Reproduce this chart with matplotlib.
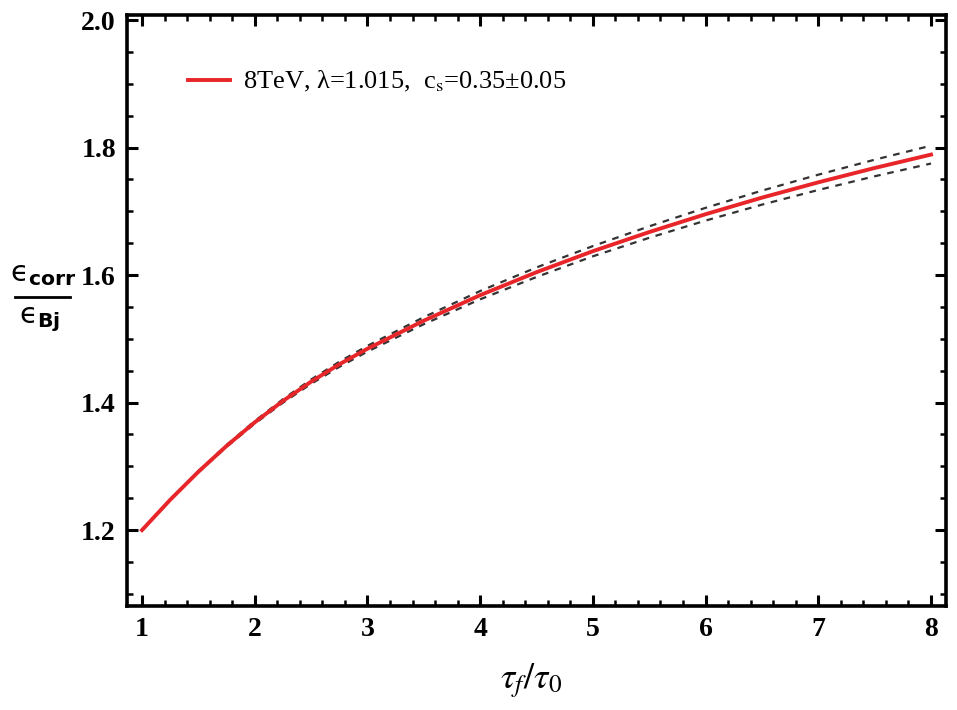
import matplotlib
matplotlib.use("Agg")
import matplotlib.pyplot as plt
from matplotlib.ticker import MultipleLocator
from matplotlib.lines import Line2D

plt.rcParams['mathtext.fontset'] = 'stix'
plt.rcParams['font.family'] = ['Liberation Serif', 'DejaVu Serif']

# Data
tau_ratio = [1.0, 1.25, 1.5, 1.75, 2.0, 2.25, 2.5, 2.75, 3.0, 3.5, 4.0, 4.5,
             5.0, 5.5, 6.0, 6.5, 7.0, 7.5, 8.0]
eps_ratio = [1.200, 1.2475, 1.2915, 1.332, 1.369, 1.4025, 1.4328, 1.460, 1.4845,
             1.5285, 1.5685, 1.6045, 1.6375, 1.6675, 1.6955, 1.7215, 1.7455, 1.768, 1.789]
eps_upper = [1.200, 1.2480, 1.2925, 1.3335, 1.371, 1.4052, 1.4362, 1.464, 1.4890,
             1.5340, 1.5750, 1.6120, 1.6455, 1.6765, 1.7055, 1.7325, 1.7575, 1.781, 1.803]
eps_lower = [1.200, 1.2470, 1.2905, 1.3305, 1.367, 1.3998, 1.4294, 1.456, 1.4800,
             1.5230, 1.5620, 1.5970, 1.6295, 1.6585, 1.6855, 1.7105, 1.7335, 1.755, 1.775]
legend_label = '8TeV, λ=1.015,  c$_{\\mathrm{s}}$=0.35±0.05'
x_ticks = [1, 2, 3, 4, 5, 6, 7, 8]
y_ticks = [1.2, 1.4, 1.6, 1.8, 2.0]

fig = plt.figure(figsize=(9.57, 7.10), dpi=100)
ax = fig.add_axes([0.1327, 0.1465, 0.8558, 0.8324])

ax.plot(tau_ratio, eps_upper, color='#333333', lw=1.6, ls=(0, (3, 3)))
ax.plot(tau_ratio, eps_lower, color='#333333', lw=1.6, ls=(0, (3, 3)))
ax.plot(tau_ratio, eps_ratio, color='#e8262a', lw=2.8, label=legend_label)

ax.set_xlim(0.867, 8.133)
ax.set_ylim(1.081, 2.008)
ax.set_xticks(x_ticks)
ax.set_yticks(y_ticks)
ax.xaxis.set_minor_locator(MultipleLocator(0.2))
ax.yaxis.set_minor_locator(MultipleLocator(0.05))
ax.set_xticklabels([str(v) for v in x_ticks])
ax.set_yticklabels(['%.1f' % v for v in y_ticks])

for s in ax.spines.values():
    s.set_linewidth(2.6)
ax.tick_params(which='major', direction='in', length=8, width=2.2,
               top=True, right=True, labelsize=20, pad=8)
ax.tick_params(which='minor', direction='in', length=4, width=1.8,
               top=True, right=True)
for lab in ax.get_xticklabels() + ax.get_yticklabels():
    lab.set_fontweight('bold')

leg = ax.legend(loc='center left', bbox_to_anchor=(0.045, 0.887), frameon=False,
                handlelength=1.6, handletextpad=0.5, fontsize=19)

fig.text(0.555, 0.042, r'$\tau_f/\tau_0$', fontsize=26, ha='center', va='center')

# y-axis label drawn as a stacked fraction
W, H = 957.0, 710.0
fig.text(43 / W, 1 - 275 / H, r'$\mathrm{ϵ}_{\mathbf{corr}}$', fontsize=21,
         ha='center', va='center', math_fontfamily='dejavusans')
fig.text(40 / W, 1 - 320 / H, r'$\mathrm{ϵ}_{\mathbf{Bj}}$', fontsize=21,
         ha='center', va='center', math_fontfamily='dejavusans')
fig.add_artist(Line2D([15 / W, 70 / W], [1 - 297 / H, 1 - 297 / H],
                      color='black', lw=2.0, transform=fig.transFigure))

fig.savefig('out.png', dpi=100)
